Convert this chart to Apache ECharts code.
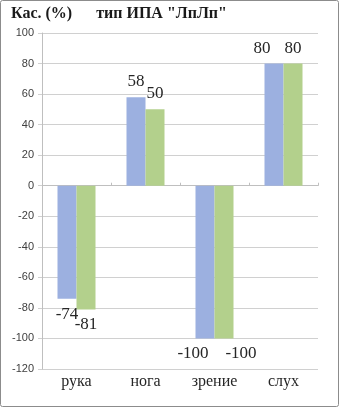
<!DOCTYPE html>
<html><head><meta charset="utf-8">
<script src="https://cdn.jsdelivr.net/npm/echarts@6/dist/echarts.min.js"></script>
<style>html,body{margin:0;padding:0;background:#fff}#c{width:339px;height:407px}</style>
</head><body><div id="c"></div>
<script>
const categories = ['рука', 'нога', 'зрение', 'слух'];
const series1 = [-74, 58, -100, 80];
const series2 = [-81, 50, -100, 80];
const yTicks = {min: -120, max: 100, interval: 20};
const titleText = 'Кас. (%)      тип ИПА "ЛпЛп"';

const chart = echarts.init(document.getElementById('c'));
const serif = '"Liberation Serif", "Times New Roman", serif';
function labelFor(offsets) {
  return function (vals) {
    return vals.map((v, i) => ({
      value: v,
      label: {position: v < 0 ? 'bottom' : 'top', offset: offsets[i] || [0, 0]}
    }));
  };
}
chart.setOption({
  animation: false,
  graphic: [
    {type: 'rect', shape: {x: 0.5, y: 0.5, width: 338, height: 406, r: 2},
      style: {fill: 'none', stroke: '#8c8c8c', lineWidth: 1}, silent: true},
    {type: 'text', left: 11, top: 6, silent: true,
      style: {text: titleText, font: 'bold 16px "Liberation Serif", serif', fill: '#1a1a1a'}}
  ],
  grid: {left: 42, right: 21, top: 33, bottom: 38, containLabel: false},
  xAxis: [{
    type: 'category', data: categories, position: 'bottom',
    axisLine: {show: false, onZero: false}, axisTick: {show: false},
    axisLabel: {fontFamily: serif, fontSize: 16, color: '#262626', margin: 5}
  }, {
    type: 'category', data: categories, position: 'top',
    axisLine: {show: true, onZero: true, lineStyle: {color: '#bfbfbf'}},
    axisTick: {show: true, length: 3, lineStyle: {color: '#bfbfbf'}},
    axisLabel: {show: false}
  }],
  yAxis: {
    type: 'value', min: yTicks.min, max: yTicks.max, interval: yTicks.interval,
    axisLine: {show: true, lineStyle: {color: '#bfbfbf'}},
    axisTick: {show: true, length: 4, lineStyle: {color: '#d0d0d0'}},
    axisLabel: {fontFamily: '"Liberation Sans", Arial, sans-serif', fontSize: 11, color: '#404040', margin: 8},
    splitLine: {lineStyle: {color: '#d0d0d0'}}
  },
  series: [{
    name: 'ряд 1', type: 'bar', xAxisIndex: 0, barWidth: 19, barGap: '0%',
    itemStyle: {color: '#9cb0e0'},
    label: {show: true, fontFamily: serif, fontSize: 17, color: '#262626', distance: 7},
    data: labelFor([[0, 0], [0, 0], [-12, 0], [-12, 0]])(series1)
  }, {
    name: 'ряд 2', type: 'bar', xAxisIndex: 0, barWidth: 19, barGap: '0%',
    itemStyle: {color: '#b3d08c'},
    label: {show: true, fontFamily: serif, fontSize: 17, color: '#262626', distance: 7},
    data: labelFor([[0, 0], [0, 0], [17, 0], [0, 0]])(series2)
  }]
});
</script></body></html>
